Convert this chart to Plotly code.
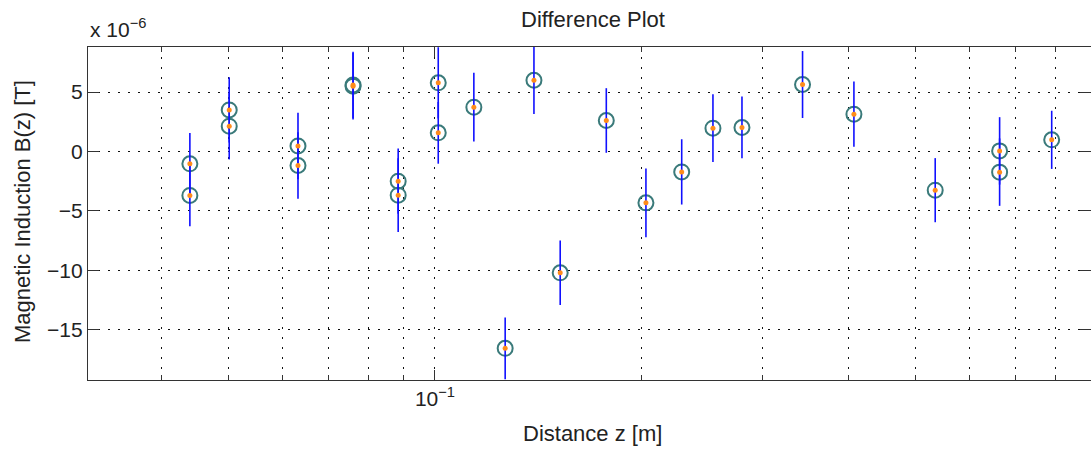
import math
import plotly.graph_objects as go

# Data (B values in units of 1e-6 T)
z_m = [0.0440, 0.0440, 0.0502, 0.0502, 0.0632, 0.0632, 0.0760, 0.0760,
       0.0884, 0.0884, 0.1011, 0.1011, 0.1139, 0.1265, 0.1393, 0.1521,
       0.1775, 0.2027, 0.2285, 0.2537, 0.2796, 0.3425, 0.4068, 0.5341,
       0.6627, 0.6627, 0.7890]
b_diff = [-1.04, -3.70, 3.50, 2.13, 0.47, -1.18, 5.60, 5.50,
          -2.50, -3.68, 5.78, 1.57, 3.73, -16.58, 6.00, -10.22,
          2.61, -4.33, -1.72, 1.96, 2.02, 5.64, 3.14, -3.26,
          0.05, -1.74, 0.98]
b_err = [2.6, 2.6, 2.75, 2.8, 2.8, 2.8, 2.8, 2.8,
         2.75, 3.1, 3.0, 2.6, 2.9, 2.6, 2.85, 2.72,
         2.72, 2.9, 2.75, 2.85, 2.6, 2.82, 2.75, 2.7,
         2.84, 2.84, 2.45]

x_major_vals = [0.1]
x_major_text = ["10<sup>\u22121</sup>"]
x_minor_vals = [0.04, 0.05, 0.06, 0.07, 0.08, 0.09, 0.2, 0.3, 0.4,
                0.5, 0.6, 0.7, 0.8, 0.9]
y_tick_vals = [-15, -10, -5, 0, 5]
y_tick_text = ["\u221215", "\u221210", "\u22125", "0", "5"]

x_range = [0.03128, 0.9]
y_range = [-19.25, 8.8]

FONT = "Liberation Sans, Arial, sans-serif"
FS = 21
TXT = "#222222"
GRID = dict(showgrid=True, gridcolor="#111111", gridwidth=1, griddash="2px,8px")

fig = go.Figure()
# open circles
fig.add_trace(go.Scatter(
    x=z_m, y=b_diff, mode="markers",
    marker=dict(symbol="circle-open", size=15, color="#3a7a7a",
                line=dict(width=2, color="#3a7a7a")),
    showlegend=False, hoverinfo="skip"))
# error bars (drawn over the circles)
fig.add_trace(go.Scatter(
    x=z_m, y=b_diff, mode="markers",
    marker=dict(size=1, color="rgba(0,0,0,0)"),
    error_y=dict(type="data", array=b_err, visible=True, color="#1010ff",
                 thickness=1.6, width=0),
    showlegend=False, hoverinfo="skip"))
# orange centre dots
fig.add_trace(go.Scatter(
    x=z_m, y=b_diff, mode="markers",
    marker=dict(symbol="circle", size=5, color="#ff8c1a"),
    showlegend=False, hoverinfo="skip"))

axis_common = dict(
    showline=True, linecolor="#333333", linewidth=1.2, mirror="ticks",
    ticks="inside", tickcolor="#333333", tickwidth=1.2,
    zeroline=False, automargin=False,
    tickfont=dict(family=FONT, size=FS, color=TXT),
    **GRID,
)

PL, PR, PT, PB = 88, 1091, 47, 380
W, H = PR - PL, PB - PT

def px_x(px):
    return (px - PL) / W

def px_y(py):
    return (PB - py) / H

fig.update_layout(
    width=1091, height=452,
    margin=dict(l=PL, r=1091 - PR, t=PT, b=452 - PB),
    paper_bgcolor="white", plot_bgcolor="white",
    font=dict(family=FONT, size=FS, color=TXT),
    xaxis=dict(type="log", range=[math.log10(x_range[0]), math.log10(x_range[1])],
               tickmode="array", tickvals=x_major_vals, ticktext=x_major_text,
               ticklen=10,
               minor=dict(tickmode="array", tickvals=x_minor_vals,
                          ticks="inside", ticklen=5, tickcolor="#333333",
                          tickwidth=1.2, **GRID),
               **axis_common),
    yaxis=dict(range=y_range, tickmode="array", tickvals=y_tick_vals,
               ticktext=y_tick_text, ticklen=11, **axis_common),
    annotations=[
        dict(text="Difference Plot", xref="paper", yref="paper",
             x=px_x(593), y=px_y(20), xanchor="center", yanchor="middle",
             showarrow=False, font=dict(family=FONT, size=22, color=TXT)),
        dict(text="x 10<sup>\u22126</sup>", xref="paper", yref="paper",
             x=0, y=px_y(28), xanchor="left", yanchor="middle",
             showarrow=False, font=dict(family=FONT, size=FS, color=TXT)),
        dict(text="Distance z [m]", xref="paper", yref="paper",
             x=px_x(592), y=px_y(433), xanchor="center", yanchor="middle",
             showarrow=False, font=dict(family=FONT, size=22, color=TXT)),
        dict(text="Magnetic Induction B(z) [T]", xref="paper", yref="paper",
             x=px_x(22), y=px_y(212), xanchor="center", yanchor="middle",
             textangle=-90, showarrow=False,
             font=dict(family=FONT, size=22, color=TXT)),
    ],
)

fig.write_html("out.html", config={"displayModeBar": False},
               post_script="document.body.style.margin='0';"
                           "document.body.style.overflow='hidden';")
